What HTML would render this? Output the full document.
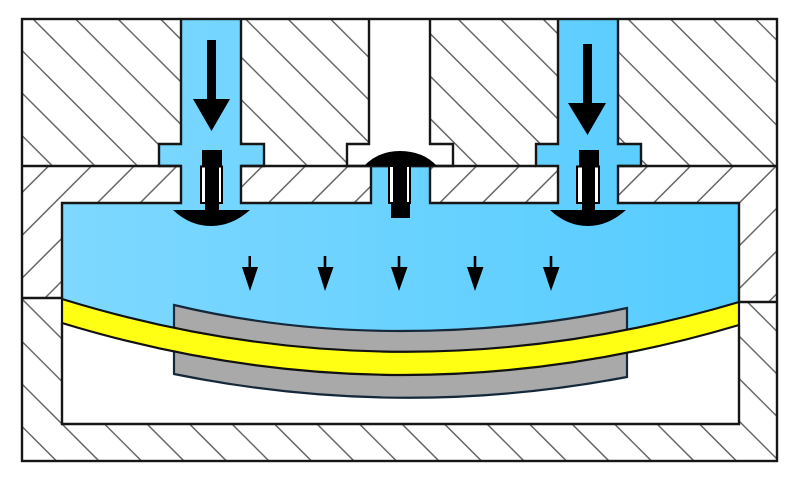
<!DOCTYPE html>
<html><head><meta charset="utf-8"><style>
html,body{margin:0;padding:0;background:#fff}
svg{display:block;filter:blur(.35px)}
</style></head><body>
<svg id="s" xmlns="http://www.w3.org/2000/svg" width="800" height="482" viewBox="0 0 800 482">
<defs>
<linearGradient id="b" x1="0" x2="1" y1="0" y2="0"><stop offset="0" stop-color="#7ed8ff"/><stop offset="1" stop-color="#56ccff"/></linearGradient>
<clipPath id="ct"><rect x="22" y="19" width="755" height="147"/></clipPath>
<clipPath id="cm"><path d="M22 166H777V302H739V203H62V298H22Z"/></clipPath>
<clipPath id="cb"><path d="M22 298H62V424H739V302H777V461H22Z"/></clipPath>
</defs>
<rect width="800" height="482" fill="#fff"/>
<g id="ht" clip-path="url(#ct)" stroke="#666" stroke-width="1.5" fill="none"></g>
<g id="hm" clip-path="url(#cm)" stroke="#666" stroke-width="1.5" fill="none"></g>
<g id="hb" clip-path="url(#cb)" stroke="#666" stroke-width="1.5" fill="none"></g>

<!-- centre white channel -->
<path d="M369 19H430V144H453V166H347V144H369Z" fill="#fff"/>

<!-- grey plates -->
<path d="M174 305Q400 357 627 308V377Q400 420 174 374Z" fill="#a9a9a9" stroke="#14283a" stroke-width="2.2"/>

<!-- blue body -->
<path d="M181 19H241V144H264V166H241V203H371V166H430V203H558V166H536V144H558V19H618V144H641V166H618V203H739V302Q400 403 62 299V203H181V166H159V144H181Z" fill="url(#b)"/>
<path d="M174 305Q283 331 400 331Q520 331 627 308V347L400 352L174 343Z" fill="#a9a9a9" stroke="none"/>
<path d="M174 343V305Q283 331 400 331Q520 331 627 308V347" fill="none" stroke="#14283a" stroke-width="2.2"/>

<!-- yellow strip -->
<path d="M62 299Q400 403 739 302V325Q400 426 62 323Z" fill="#ffff14" stroke="#111" stroke-width="2.2"/>

<!-- outlines -->
<g fill="none" stroke="#161616" stroke-width="2.4">
<path d="M181 19V144H159V166H181V203H62V299"/>
<path d="M241 19V144H264V166H241V203H371V166"/>
<path d="M430 166V203H558V166H536V144H558V19"/>
<path d="M618 19V144H641V166H618V203H739V302"/>
<path d="M369 19V144H347V166H453V144H430V19"/>
<path d="M62 323V424H739V325"/>
<path d="M22 166H181M241 166H536M618 166H777"/>
<path d="M22 298H62M739 302H777"/>
<rect x="22" y="19" width="755" height="442"/>
</g>

<!-- big arrows -->
<g fill="#000">
<path d="M207 40H216V99H230L211.500 131L193 99H207Z"/>
<path d="M583 44H592V103H606L587.500 135L568 103H583Z"/>
</g>

<!-- left valve -->
<rect x="201" y="166.500" width="21" height="36.500" fill="#fff" stroke="#000" stroke-width="2"/>
<path d="M202 150H222V166H219V210H250Q232 226 211 226Q190 226 173 210H205V166H202Z" fill="#000"/>
<!-- right valve -->
<rect x="577" y="166.500" width="22" height="36.500" fill="#fff" stroke="#000" stroke-width="2"/>
<path d="M579 150H599V166H595V210H626Q608 226 588 226Q567 226 550 210H582V166H579Z" fill="#000"/>
<!-- centre valve -->
<rect x="389" y="166" width="21" height="37" fill="#fff" stroke="#000" stroke-width="2"/>
<path d="M364 166Q378 151 400 151Q423 151 437 166H407V203H410V218H391V203H393V166Z" fill="#000"/>

<!-- small arrows -->
<g fill="#000" stroke="none">
<path d="M248.500 256H251V267H258L250 291L242 267H248.500Z"/>
<path d="M323.700 256H326.300V267H333.500L325 291L317.500 267H323.700Z"/>
<path d="M397.700 256H400.300V267H407.500L399 291L391 267H397.700Z"/>
<path d="M473.700 256H476.300V267H483.500L475 291L467 267H473.700Z"/>
<path d="M549.700 256H552.300V267H559.500L551 291L543 267H549.700Z"/>
</g>
</svg>
<script>
var N='http://www.w3.org/2000/svg';
function add(id,x1,y1,x2,y2){var l=document.createElementNS(N,'line');l.setAttribute('x1',x1);l.setAttribute('y1',y1);l.setAttribute('x2',x2);l.setAttribute('y2',y2);document.getElementById(id).appendChild(l);}
for(var k=-4;k<18;k++){var c=14+42.5*k;add('ht',c+19,19,c+166,166);}
for(var k=-5;k<19;k++){var c=343+42.8*k;add('hm',c-160,160,c-310,310);}
for(var k=-2;k<20;k++){var c=-362+42.5*k;add('hb',c+290,290,c+470,470);}
</script>
</body></html>
